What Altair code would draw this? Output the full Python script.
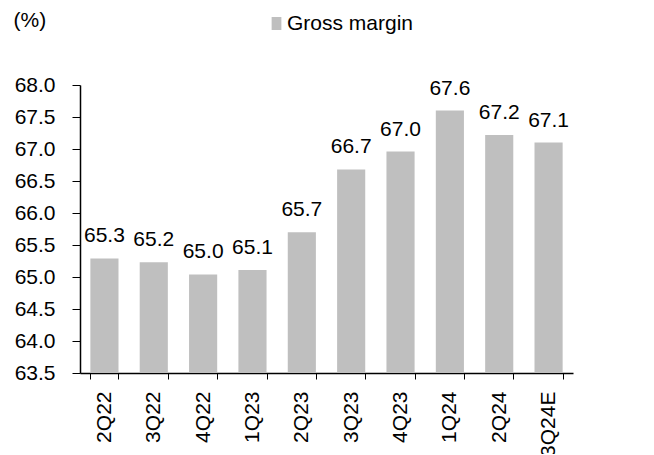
import altair as alt
import pandas as pd

quarters = ["2Q22", "3Q22", "4Q22", "1Q23", "2Q23", "3Q23", "4Q23", "1Q24", "2Q24", "3Q24E"]
gross_margin = [65.29, 65.23, 65.04, 65.11, 65.70, 66.68, 66.96, 67.60, 67.22, 67.10]
series_name = "Gross margin"
y_ticks = [63.5, 64.0, 64.5, 65.0, 65.5, 66.0, 66.5, 67.0, 67.5, 68.0]

df = pd.DataFrame({"quarter": quarters, "value": gross_margin, "series": series_name})

FONT = "Liberation Sans"
FS = 21

base = alt.Chart(df)

bars = base.mark_bar(color="#bfbfbf").encode(
    x=alt.X("quarter:N", sort=quarters, title=None,
            scale=alt.Scale(paddingInner=0.43, paddingOuter=0.21),
            axis=alt.Axis(labelAngle=-90, labelFont=FONT, labelFontSize=FS, labelColor="#000",
                          domainColor="#000", tickColor="#000", tickSize=6, tickBand="extent",
                          labelPadding=12, labelAlign="right", labelBaseline="middle",
                          labelOverlap=False)),
    y=alt.Y("value:Q", title="(%)",
            scale=alt.Scale(domain=[63.5, 68.0], zero=False, nice=False),
            axis=alt.Axis(values=y_ticks, tickCount=20,
                          format=".1f", labelFont=FONT, labelFontSize=FS, labelColor="#000",
                          domainColor="#000", tickColor="#000", tickSize=8, grid=False,
                          labelPadding=17, labelOverlap=False,
                          titleAngle=0, titleX=-67, titleY=-65, titleAlign="left",
                          titleBaseline="middle", titleFont=FONT, titleFontSize=FS,
                          titleFontWeight="normal", titleColor="#000")),
    y2=alt.Y2(datum=63.5),
    fill=alt.Fill("series:N", scale=alt.Scale(range=["#bfbfbf"]),
                  legend=alt.Legend(title=None, orient="none", legendX=186, legendY=-72,
                                    symbolType="M-0.75,-1L0.75,-1L0.75,1L-0.75,1Z",
                                    symbolSize=169, symbolStrokeWidth=0,
                                    labelFont=FONT, labelFontSize=FS, labelColor="#000",
                                    labelOffset=0, padding=0)),
)

labels = base.mark_text(font=FONT, fontSize=FS, color="#000", baseline="alphabetic", dy=-16).encode(
    x=alt.X("quarter:N", sort=quarters),
    y=alt.Y("value:Q"),
    text=alt.Text("value:Q", format=".1f"),
)

chart = (bars + labels).properties(
    width=493, height=288,
    autosize=alt.AutoSizeParams(type="none"),
    padding={"left": 72, "top": 77, "right": 20, "bottom": 81},
).configure_view(stroke=None).configure_axisX(domainWidth=1.5).configure_axisY(domainWidth=1.5)

chart.save("out.html", embed_options={"renderer": "svg", "actions": False})
